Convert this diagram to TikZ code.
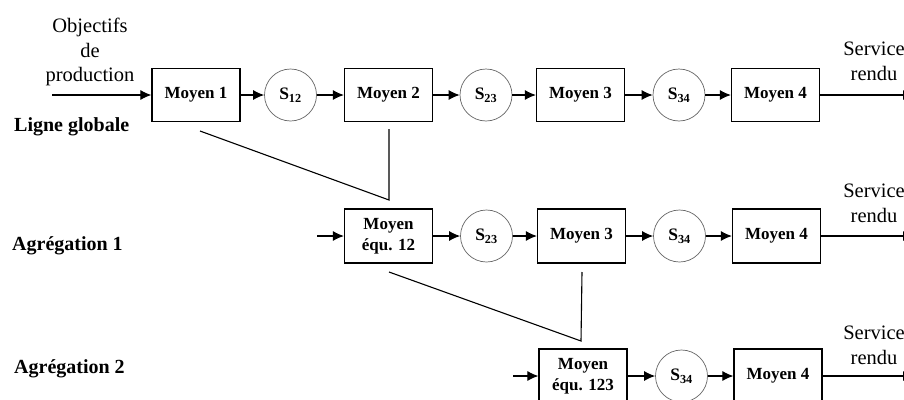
\documentclass[tikz,border=0pt]{standalone}
\usepackage{fontspec}
\setmainfont{Liberation Serif}
\usetikzlibrary{arrows.meta,calc}
\begin{document}
\begin{tikzpicture}[x=1pt,y=-1pt,
  moyen/.style={draw,line width=1.2pt,minimum width=88pt,minimum height=53pt,inner sep=0pt,align=center,font=\fontsize{17}{21}\selectfont\bfseries},
  stock/.style={draw=black!60,line width=0.7pt,circle,minimum size=52pt,inner sep=0pt,font=\fontsize{17.5}{21}\selectfont\bfseries},
  flow/.style={line width=1.1pt,-{Latex[length=11pt,width=10pt]}},
  agg/.style={line width=1.1pt},
  lbl/.style={font=\fontsize{20.5}{24.5}\selectfont,align=center,inner sep=0pt,anchor=north},
  rowlbl/.style={font=\fontsize{20}{24}\selectfont\bfseries,inner sep=0pt,anchor=base west}]
\useasboundingbox (0,0) rectangle (904,399);
\clip (0,0) rectangle (904,399);

% ---------- Row 1 : Ligne globale ----------
\node[moyen] (m1)  at (196,95)   {Moyen 1};
\node[stock] (s12) at (290.5,95) {S\textsubscript{12}};
\node[moyen] (m2)  at (388.5,95) {Moyen 2};
\node[stock] (s23) at (486,95)   {S\textsubscript{23}};
\node[moyen] (m3)  at (580.5,95) {Moyen 3};
\node[stock] (s34) at (679,95)   {S\textsubscript{34}};
\node[moyen] (m4)  at (775.5,95) {Moyen 4};
\coordinate (in1)  at (52,95);
\coordinate (out1) at (914,95);
\draw[flow] (in1) -- (m1);
\draw[flow] (m1) -- (s12);
\draw[flow] (s12) -- (m2);
\draw[flow] (m2) -- (s23);
\draw[flow] (s23) -- (m3);
\draw[flow] (m3) -- (s34);
\draw[flow] (s34) -- (m4);
\draw[flow] (m4) -- (out1);
\node[lbl] (obj) at (90,18) {Objectifs\\de\\production};
\node[lbl] (sr1) at (874,42) {Service\\rendu};
\node[rowlbl] (lg) at (14,131) {Ligne globale};

% aggregation 1 lines
\coordinate (d1) at (200,131);
\coordinate (v1) at (389,200);
\coordinate (u1) at (389,129);
\draw[agg] (d1) -- (v1) -- (u1);

% ---------- Row 2 : Agregation 1 ----------
\node[moyen,minimum height=54pt] (e12)  at (388.5,236) {Moyen\\équ. 12};
\node[stock] (t23) at (486.5,236) {S\textsubscript{23}};
\node[moyen,minimum height=54pt] (n3)  at (581.5,236) {Moyen 3};
\node[stock] (t34) at (679.5,236) {S\textsubscript{34}};
\node[moyen,minimum height=54pt] (n4)  at (776.5,236) {Moyen 4};
\coordinate (in2)  at (317,236);
\coordinate (out2) at (914,236);
\draw[flow] (in2) -- (e12);
\draw[flow] (e12) -- (t23);
\draw[flow] (t23) -- (n3);
\draw[flow] (n3) -- (t34);
\draw[flow] (t34) -- (n4);
\draw[flow] (n4) -- (out2);
\node[lbl] (sr2) at (874,184) {Service\\rendu};
\node[rowlbl] (ag1) at (12,250) {Agrégation 1};

% aggregation 2 lines
\coordinate (d2) at (389,272);
\coordinate (v2) at (581,341);
\coordinate (u2) at (582,272);
\draw[agg] (d2) -- (v2) -- (u2);

% ---------- Row 3 : Agregation 2 ----------
\node[moyen,minimum height=54pt] (e123) at (583,376) {Moyen\\équ. 123};
\node[stock] (r34) at (681.5,376) {S\textsubscript{34}};
\node[moyen,minimum height=54pt] (p4)  at (778,376) {Moyen 4};
\coordinate (in3)  at (513,376);
\coordinate (out3) at (914,376);
\draw[flow] (in3) -- (e123);
\draw[flow] (e123) -- (r34);
\draw[flow] (r34) -- (p4);
\draw[flow] (p4) -- (out3);
\node[lbl] (sr3) at (874,326) {Service\\rendu};
\node[rowlbl] (ag2) at (14,373) {Agrégation 2};
\end{tikzpicture}
\end{document}
